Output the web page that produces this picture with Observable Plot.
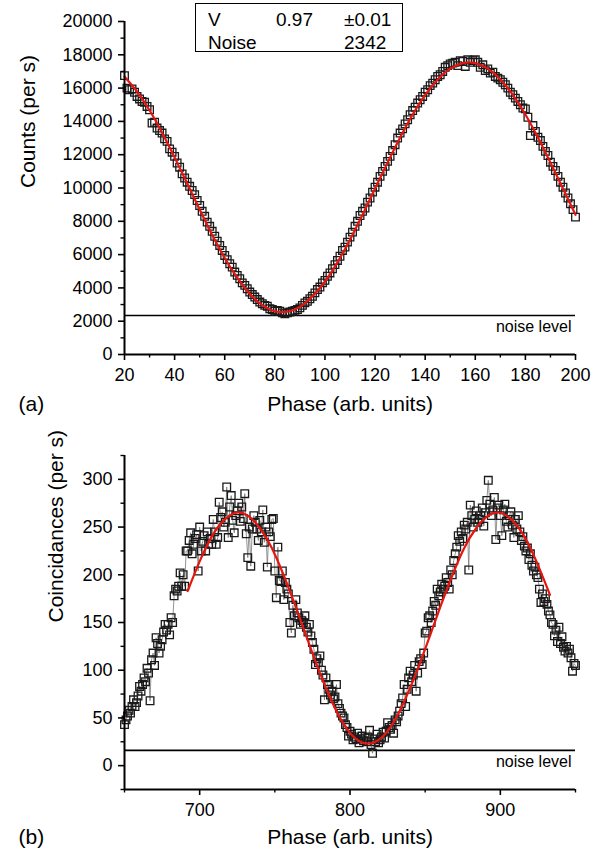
<!DOCTYPE html>
<html>
<head>
<meta charset="utf-8">
<script src="https://cdn.jsdelivr.net/npm/d3@7"></script>
<script src="https://cdn.jsdelivr.net/npm/@observablehq/plot@0.6"></script>
<style>
  html, body { margin: 0; padding: 0; background: white; }
  #fig { position: relative; width: 606px; height: 858px; font-family: "Liberation Sans", Arial, sans-serif; color: black; }
  #fig svg { display: block; }
  .box { position: absolute; left: 195px; top: 3px; width: 206px; height: 47px; border: 1.5px solid black; box-sizing: content-box; }
  .bt { position: absolute; font-size: 19px; line-height: 19px; white-space: nowrap; }
</style>
</head>
<body>
<div id="fig"></div>
<script>
// ---------- Panel (a) data ----------
const phaseStartA = 20;
const phaseStepA = 1;
const countsA = [
  16750,16000,15900,15950,15750,15500,15350,15200,15150,14900,
  14700,13900,13950,13600,13450,13300,12950,12800,12350,12150,
  11900,11500,11250,10850,10600,10350,10100,9850,9600,9250,
  8950,8600,8300,7950,7700,7400,7100,6800,6550,6250,
  5950,5700,5450,5250,4950,4750,4550,4300,4150,3950,
  3750,3600,3450,3300,3150,3050,2950,2900,2750,2700,
  2600,2650,2600,2500,2450,2500,2550,2600,2650,2700,
  2800,2950,3100,3200,3350,3500,3700,3900,4050,4300,
  4450,4700,4900,5150,5400,5650,5900,6250,6450,6750,
  7050,7350,7700,8000,8350,8600,8800,9150,9400,9750,
  10050,10350,10700,11000,11300,11600,11900,12250,12600,13000,
  13300,13550,13850,14100,14400,14650,14850,15100,15300,15500,
  15750,15900,16150,16300,16500,16700,16800,17000,17250,17350,
  17450,17500,17550,17350,17650,17600,17300,17700,17550,17650,
  17700,17550,17250,17400,17050,17150,16900,16950,16700,16600,
  16500,16350,16200,16000,15750,15600,15400,15200,15000,14800,
  14750,14250,13150,13750,13400,13050,12850,12500,12200,11950,
  11550,11300,11050,10700,10350,10050,9700,9400,9050,8700,
  8250
];
const fitPhaseA = [20,25,30,35,40,45,50,55,60,65,70,75,80,85,90,95,100,105,110,115,120,125,130,135,140,145,150,155,160,165,170,175,180,185,190,195,200];
const fitCountsA = [16678,15793,14668,13325,11840,10280,8705,7183,5795,4610,3643,2960,2600,2570,2863,3493,4385,5533,6898,8390,9965,11525,13033,14413,15590,16520,17165,17500,17500,17165,16520,15590,14413,13033,11525,9965,8390];
const noiseA = 2342;
const xDomainA = [20, 200];
const yDomainA = [0, 20000];
const xTicksA = [20,40,60,80,100,120,140,160,180,200];
const xMinorA = [30,50,70,90,110,130,150,170,190];
const yTicksA = [0,2000,4000,6000,8000,10000,12000,14000,16000,18000,20000];
const yMinorA = [1000,3000,5000,7000,9000,11000,13000,15000,17000,19000];
const fitLabels = ["V", "0.97", "±0.01", "Noise", "2342"];

// ---------- Panel (b) data ----------
const phaseStartB = 650;
const phaseStepB = 1;
const coincB = [
  43,48,52,58,55,62,69,62,66,73,
  83,78,85,92,88,102,97,68,111,118,
  105,134,128,118,125,132,140,148,142,148,
  137,155,150,178,185,183,188,202,188,200,
  188,225,225,236,244,222,232,238,242,204,
  250,225,235,241,225,245,232,238,232,258,
  245,232,239,276,260,266,250,255,292,239,
  271,283,257,244,262,267,275,256,271,259,
  285,243,218,250,209,248,262,255,248,236,
  257,245,268,234,250,208,245,240,258,259,
  204,176,229,194,193,204,174,192,185,180,
  150,139,168,157,174,160,155,148,152,150,
  157,145,140,148,136,129,122,106,112,108,
  115,100,95,69,92,85,80,74,78,70,
  72,85,65,60,55,52,50,43,40,31,
  36,33,27,30,28,34,24,28,31,26,
  29,25,30,37,22,13,28,25,33,24,
  27,30,35,29,36,45,40,38,42,34,
  48,46,52,57,65,71,85,62,80,92,
  99,88,95,105,78,97,109,112,106,118,
  139,141,155,157,150,162,172,168,185,178,
  182,190,185,188,197,192,185,205,200,215,
  222,229,241,235,245,238,252,248,255,205,
  273,262,250,258,267,255,258,262,270,251,
  265,278,299,274,262,268,281,237,270,273,
  262,241,268,274,256,250,262,266,252,239,
  258,248,262,245,236,240,230,225,228,216,
  222,210,204,208,200,197,185,171,180,172,
  175,169,162,158,150,148,136,142,130,145,
  128,135,124,120,125,118,122,113,99,107,
  105
];
const fitPhaseB = [692,700,708,716,724,732,740,748,756,764,772,780,788,796,804,812,820,828,836,844,852,860,868,876,884,892,900,908,916,924,933];
const fitCoincB = [183,214,240,257,265,262,249,228,199,166,131,97,67,43,28,23,28,43,67,97,131,166,199,228,249,262,265,257,240,214,179];
const noiseB = 16;
const xDomainB = [650, 950];
const yDomainB = [-25, 325];
const xTicksB = [700, 800, 900];
const xMinorB = [650, 750, 850, 950];
const yTicksB = [0, 50, 100, 150, 200, 250, 300];
const yMinorB = [-25, 25, 75, 125, 175, 225, 275, 325];

// ---------- shared styling ----------
const FONT = '"Liberation Sans", Arial, sans-serif';
const RED = "#e8140f";
const tickFont = 18;
const titleFont = 21;

function panel(o) {
  const pts = o.values.map((v, i) => ({x: o.start + i * o.step, y: v}));
  const fit = o.fitX.map((x, i) => ({x, y: o.fitY[i]}));
  const marks = [
    Plot.ruleY([o.noise], {stroke: "black", strokeWidth: 1.6}),
    Plot.text([{y: o.noise, t: "noise level"}], {
      x: () => o.xDomain[1], y: "y", text: "t", textAnchor: "end", lineAnchor: "top",
      dx: -4, dy: 5, fontSize: 16, fill: "black"
    })
  ];
  if (o.connect) {
    marks.push(Plot.line(pts, {x: "x", y: "y", stroke: "#777", strokeWidth: 0.8}));
  }
  marks.push(
    Plot.dot(pts, {x: "x", y: "y", symbol: "square", r: 4.3, stroke: "#1a1a1a", strokeWidth: 1.3, fill: "none"}),
    Plot.line(fit, {x: "x", y: "y", stroke: RED, strokeWidth: 2.2, curve: "natural"}),
    Plot.ruleX([o.xDomain[0]], {stroke: "black", strokeWidth: 2}),
    Plot.ruleY([o.yDomain[0]], {stroke: "black", strokeWidth: 2}),
    Plot.axisY({ticks: o.yTicks, tickSize: 6, tickPadding: 6, fontSize: tickFont, strokeWidth: 1.6, label: null, tickFormat: d => String(d)}),
    Plot.axisY({ticks: o.yMinor, tickSize: 3.5, text: null, strokeWidth: 1.4, label: null}),
    Plot.axisX({ticks: o.xTicks, tickSize: 6, tickPadding: 8, fontSize: tickFont, strokeWidth: 1.6, label: null, tickFormat: d => String(d)}),
    Plot.axisX({ticks: o.xMinor, tickSize: 3.5, text: null, strokeWidth: 1.4, label: null}),
    Plot.text([o.yTitle], {frameAnchor: "left", dx: o.yTitleDx, rotate: -90, fontSize: titleFont, fill: "black", text: d => d}),
    Plot.text(["Phase (arb. units)"], {frameAnchor: "bottom", dy: o.xTitleDy, fontSize: titleFont, fill: "black", text: d => d}),
    Plot.text([o.tag], {frameAnchor: "bottom-left", dx: o.tagDx, dy: o.xTitleDy, textAnchor: "start", fontSize: titleFont, fill: "black", text: d => d})
  );
  return Plot.plot({
    width: 606,
    height: o.height,
    marginLeft: 124,
    marginRight: 31,
    marginTop: o.marginTop,
    marginBottom: o.marginBottom,
    x: {domain: o.xDomain},
    y: {domain: o.yDomain},
    style: {fontFamily: FONT, fontSize: "18px", color: "black", background: "white", overflow: "visible"},
    marks
  });
}

const fig = document.getElementById("fig");

const svgA = panel({
  values: countsA, start: phaseStartA, step: phaseStepA,
  fitX: fitPhaseA, fitY: fitCountsA, noise: noiseA,
  xDomain: xDomainA, yDomain: yDomainA,
  xTicks: xTicksA, xMinor: xMinorA, yTicks: yTicksA, yMinor: yMinorA,
  yTitle: "Counts (per s)", yTitleDx: -96, xTitleDy: 56, tag: "(a)", tagDx: -106,
  height: 430, marginTop: 21, marginBottom: 76, connect: false
});
fig.appendChild(svgA);

const svgB = panel({
  values: coincB, start: phaseStartB, step: phaseStepB,
  fitX: fitPhaseB, fitY: fitCoincB, noise: noiseB,
  xDomain: xDomainB, yDomain: yDomainB,
  xTicks: xTicksB, xMinor: xMinorB, yTicks: yTicksB, yMinor: yMinorB,
  yTitle: "Coincidances (per s)", yTitleDx: -68, xTitleDy: 54, tag: "(b)", tagDx: -106,
  height: 428, marginTop: 25, marginBottom: 69, connect: true
});
fig.appendChild(svgB);

// ---------- fit-result box (panel a) ----------
const box = document.createElement("div");
box.className = "box";
fig.appendChild(box);
const pos = [[12, 6], [80, 6], [148, 6], [12, 29], [148, 29]];
fitLabels.forEach((t, i) => {
  const s = document.createElement("div");
  s.className = "bt";
  s.textContent = t;
  s.style.left = pos[i][0] + "px";
  s.style.top = pos[i][1] + "px";
  box.appendChild(s);
});
</script>
</body>
</html>
